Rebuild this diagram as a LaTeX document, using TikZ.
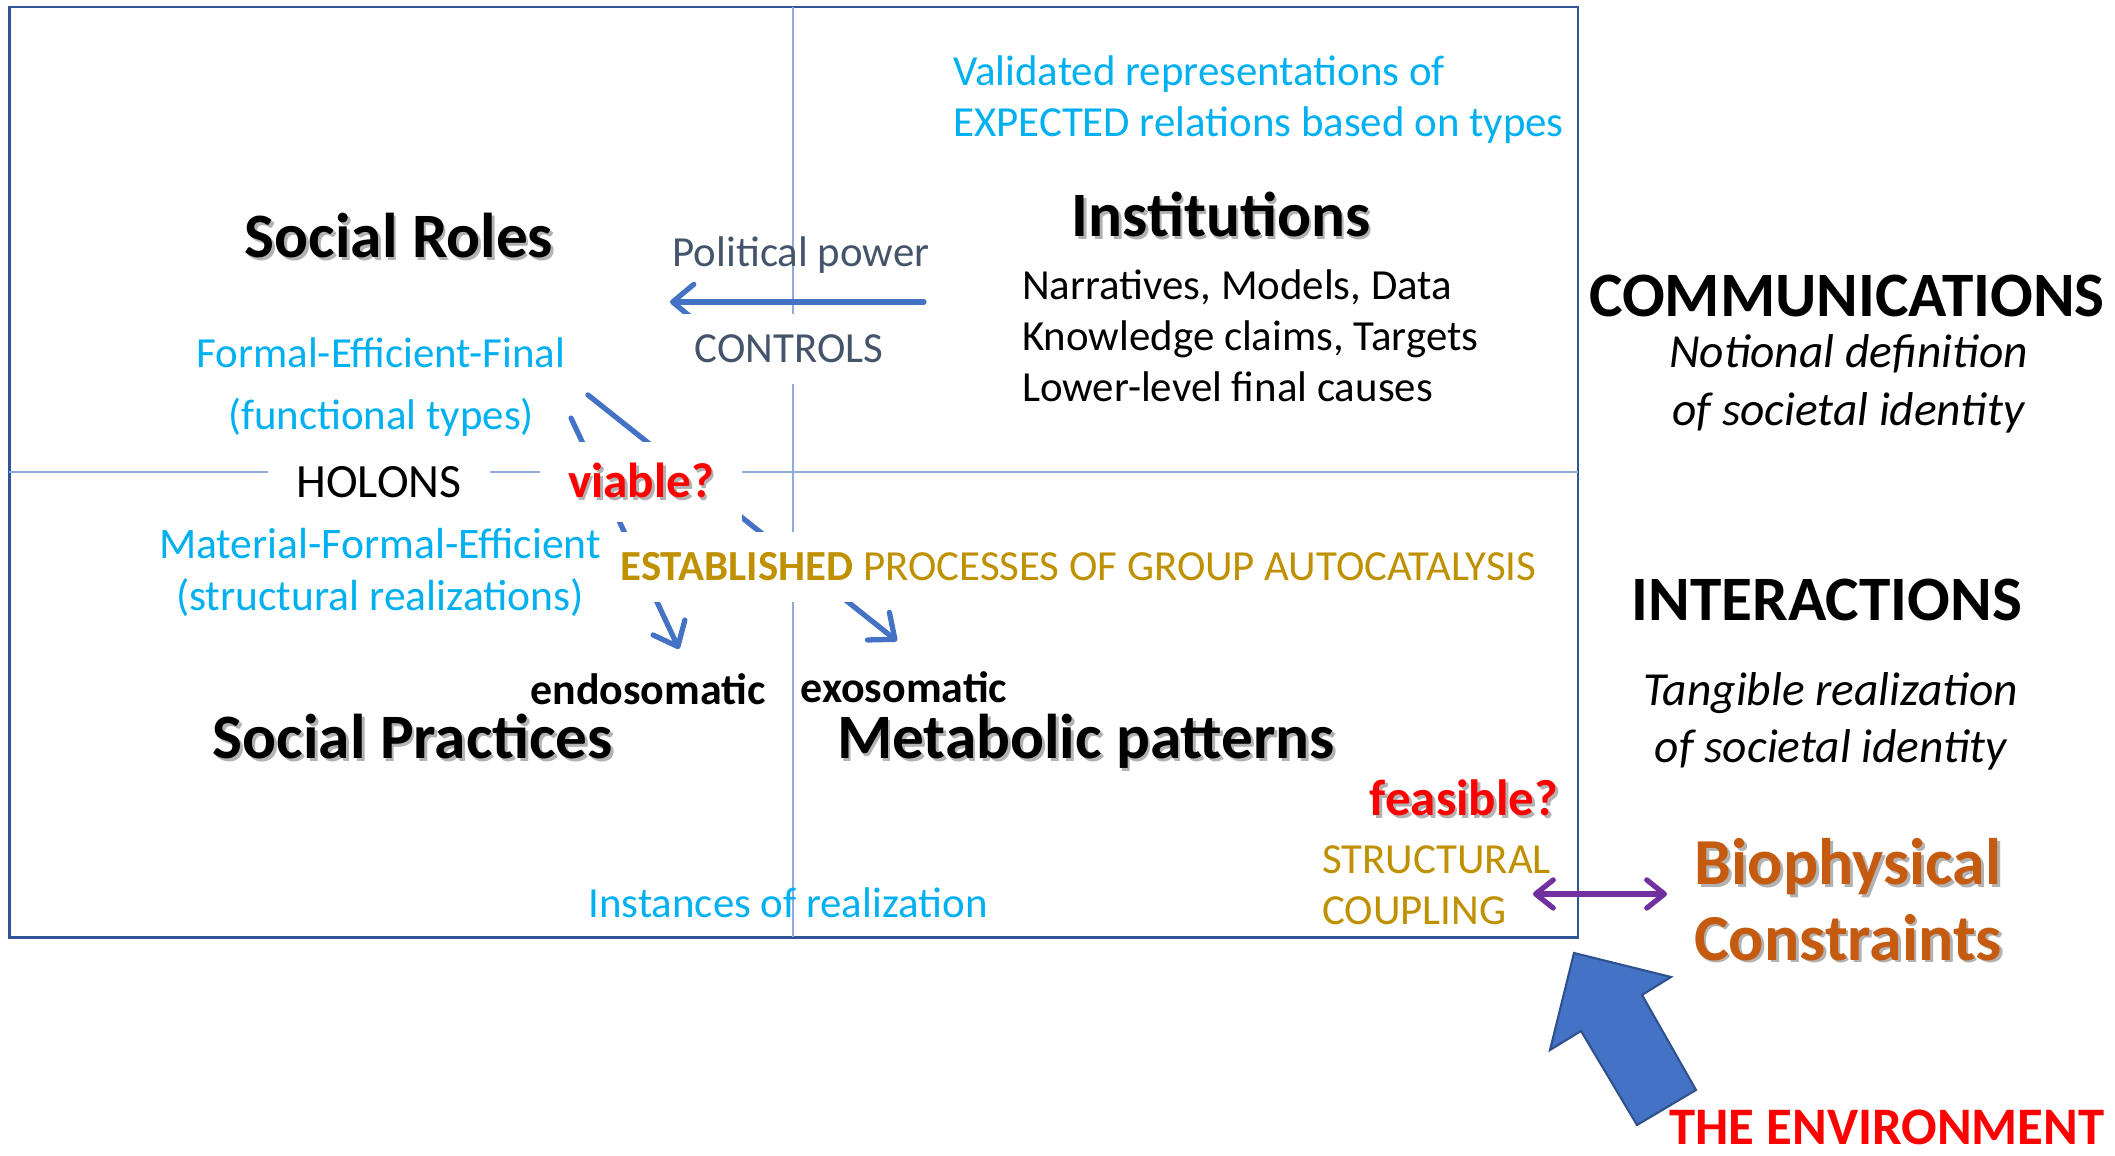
\documentclass[tikz,border=0pt]{standalone}
\usepackage{fontspec}
\setmainfont{Carlito}
\usepackage{xcolor}
\usetikzlibrary{arrows.meta}

\definecolor{frameblue}{HTML}{2F5597}
\definecolor{gridblue}{HTML}{8FAADC}
\definecolor{arrowblue}{HTML}{4472C4}
\definecolor{arrowedge}{HTML}{2F528F}
\definecolor{skyblue}{HTML}{00B0F0}
\definecolor{slate}{HTML}{44546A}
\definecolor{goldtext}{HTML}{BF9000}
\definecolor{rust}{HTML}{C55A11}
\definecolor{couplepurple}{HTML}{7030A0}

% soft drop shadow under a line of text
\newcommand{\shadowed}[1]{\leavevmode\rlap{\kern0.8pt\raisebox{-0.8pt}{\color{black!30}#1}}#1}

\begin{document}
\begin{tikzpicture}[
    every node/.style={inner sep=1pt},
    heading/.style={font=\bfseries\fontsize{18}{22}\selectfont},
    plain/.style={font=\fontsize{12.2}{14.5}\selectfont},
    mask/.style={fill=white, inner xsep=8pt, inner ysep=6pt},
    flow/.style={draw=arrowblue, line width=1.5pt, line cap=round,
        -{Straight Barb[length=6pt,width=10pt,round]}},
]
    \useasboundingbox (0,0) rectangle (21.15,-11.56);
    % Frame and quadrants
    \draw[frameblue, line width=0.8pt] (0.094,-0.07) rectangle (15.78,-9.375);
    \draw[gridblue, line width=0.5pt] (7.93,-0.07) -- (7.93,-9.375);
    \draw[gridblue, line width=0.5pt] (0.094,-4.72) -- (15.78,-4.72);
    % Arrow end points
    \coordinate (powstart) at (9.24,-3.02);
    \coordinate (powend) at (6.70,-3.02);
    \coordinate (endostart) at (5.71,-4.18);
    \coordinate (endoend) at (6.79,-6.49);
    \coordinate (exostart) at (5.88,-3.95);
    \coordinate (exoend) at (8.97,-6.41);
    \coordinate (couplel) at (15.33,-8.94);
    \coordinate (coupler) at (16.67,-8.94);
    % Flows (partly hidden by the masked labels)
    \draw[flow] (powstart) -- (powend);
    \draw[flow] (endostart) -- (endoend);
    \draw[flow] (exostart) -- (exoend);
    \draw[couplepurple, line width=1.5pt, line cap=round,
        {Straight Barb[length=5pt,width=8pt,round]}-{Straight Barb[length=5pt,width=8pt,round]}]
        (couplel) -- (coupler);
    % The environment pushing in
    \filldraw[fill=arrowblue, draw=arrowedge, line width=0.6pt]
        (15.74,-9.53) -- (16.71,-9.77) -- (16.42,-9.95) -- (16.96,-10.90)
        -- (16.37,-11.25) -- (15.81,-10.31) -- (15.50,-10.50) -- cycle;

    % Upper right quadrant
    \node[plain, text=skyblue, align=left, anchor=west] (valid) at (9.49,-0.995)
        {Validated representations of\\EXPECTED relations based on types};
    \node[heading] (inst) at (12.21,-2.16) {\shadowed{Institutions}};
    \node[plain, align=left, anchor=west] (narr) at (10.18,-3.36)
        {Narratives, Models, Data\\Knowledge claims, Targets\\Lower-level final causes};
    % Upper left quadrant
    \node[heading] (roles) at (3.99,-2.37) {\shadowed{Social Roles}};
    \node[plain, text=slate] (polit) at (8.01,-2.55) {Political power};
    \node[plain, text=slate, mask] (ctrl) at (7.89,-3.49) {CONTROLS};
    \node[text=skyblue, align=center, font=\fontsize{12.2}{17.6}\selectfont] (formal) at (3.81,-3.87)
        {Formal-Efficient-Final\\(functional types)};
    % Middle band
    \node[mask, font=\fontsize{13.6}{16}\selectfont] (holons) at (3.79,-4.82) {HOLONS};
    \node[mask, text=red, font=\bfseries\fontsize{14}{16}\selectfont] (viable) at (6.41,-4.82) {\shadowed{viable?}};
    \node[plain, mask, text=goldtext] (estab) at (10.785,-5.67)
        {\textbf{ESTABLISHED} PROCESSES OF GROUP AUTOCATALYSIS};
    \node[text=skyblue, align=center, font=\fontsize{12.4}{15}\selectfont] (material) at (3.80,-5.725)
        {Material-Formal-Efficient\\(structural realizations)};
    % Lower quadrants
    \node[font=\bfseries\fontsize{12.5}{15}\selectfont] (endo) at (6.48,-6.89) {endosomatic};
    \node[font=\bfseries\fontsize{12.5}{15}\selectfont] (exo) at (9.04,-6.87) {exosomatic};
    \node[heading] (practices) at (4.13,-7.38) {\shadowed{Social Practices}};
    \node[heading] (metab) at (10.86,-7.43) {\shadowed{Metabolic patterns}};
    \node[text=red, font=\bfseries\fontsize{14.5}{17}\selectfont] (feasible) at (14.64,-7.99) {\shadowed{feasible?}};
    \node[plain, text=goldtext, align=left, anchor=west] (coupling) at (13.18,-8.85)
        {STRUCTURAL\\COUPLING};
    \node[plain, text=skyblue] (instances) at (7.88,-9.03) {Instances of realization};
    % Right column
    \node[heading] (comm) at (18.47,-2.96) {COMMUNICATIONS};
    \node[font=\itshape\fontsize{13.5}{16.4}\selectfont, align=center] (notional) at (18.485,-3.84)
        {Notional definition\\of societal identity};
    \node[heading] (interact) at (18.27,-6.0) {INTERACTIONS};
    \node[font=\itshape\fontsize{13.5}{16.2}\selectfont, align=center] (tangible) at (18.31,-7.215)
        {Tangible realization\\of societal identity};
    \node[text=rust, font=\bfseries\fontsize{18.7}{21.5}\selectfont, align=center] (bio) at (18.48,-9.01)
        {\shadowed{Biophysical}\\\shadowed{Constraints}};
    \node[text=red, font=\bfseries\fontsize{15}{18}\selectfont] (env) at (18.87,-11.27) {THE ENVIRONMENT};
\end{tikzpicture}
\end{document}
